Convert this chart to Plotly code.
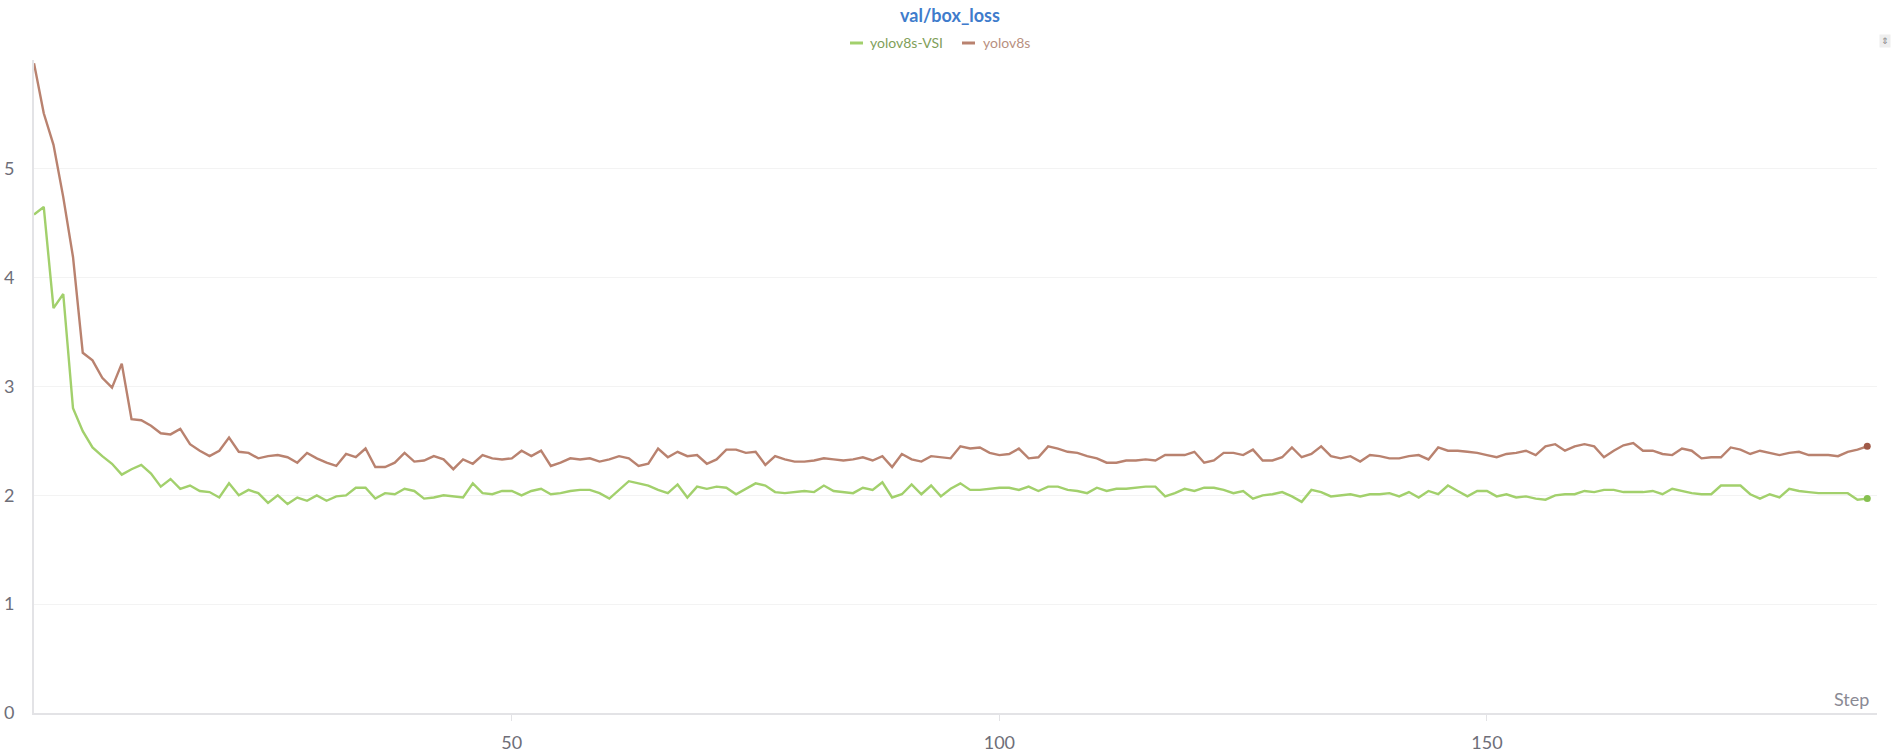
import plotly.graph_objects as go

steps = list(range(1, 190))

yolov8s_vsi = [
    4.58, 4.65, 3.72, 3.85, 2.80, 2.59, 2.44, 2.36, 2.29, 2.19,
    2.24, 2.28, 2.20, 2.08, 2.15, 2.06, 2.09, 2.04, 2.03, 1.98,
    2.11, 2.00, 2.05, 2.02, 1.93, 2.00, 1.92, 1.98, 1.95, 2.00,
    1.95, 1.99, 2.00, 2.07, 2.07, 1.97, 2.02, 2.01, 2.06, 2.04,
    1.97, 1.98, 2.00, 1.99, 1.98, 2.11, 2.02, 2.01, 2.04, 2.04,
    2.00, 2.04, 2.06, 2.01, 2.02, 2.04, 2.05, 2.05, 2.02, 1.97,
    2.05, 2.13, 2.11, 2.09, 2.05, 2.02, 2.10, 1.98, 2.08, 2.06,
    2.08, 2.07, 2.01, 2.06, 2.11, 2.09, 2.03, 2.02, 2.03, 2.04,
    2.03, 2.09, 2.04, 2.03, 2.02, 2.07, 2.05, 2.12, 1.98, 2.01,
    2.10, 2.01, 2.09, 1.99, 2.06, 2.11, 2.05, 2.05, 2.06, 2.07,
    2.07, 2.05, 2.08, 2.04, 2.08, 2.08, 2.05, 2.04, 2.02, 2.07,
    2.04, 2.06, 2.06, 2.07, 2.08, 2.08, 1.99, 2.02, 2.06, 2.04,
    2.07, 2.07, 2.05, 2.02, 2.04, 1.97, 2.00, 2.01, 2.03, 1.99,
    1.94, 2.05, 2.03, 1.99, 2.00, 2.01, 1.99, 2.01, 2.01, 2.02,
    1.99, 2.03, 1.98, 2.04, 2.01, 2.09, 2.04, 1.99, 2.04, 2.04,
    1.99, 2.01, 1.98, 1.99, 1.97, 1.96, 2.00, 2.01, 2.01, 2.04,
    2.03, 2.05, 2.05, 2.03, 2.03, 2.03, 2.04, 2.01, 2.06, 2.04,
    2.02, 2.01, 2.01, 2.09, 2.09, 2.09, 2.01, 1.97, 2.01, 1.98,
    2.06, 2.04, 2.03, 2.02, 2.02, 2.02, 2.02, 1.96, 1.97,
]

yolov8s = [
    5.97, 5.51, 5.22, 4.74, 4.19, 3.31, 3.24, 3.08, 2.99, 3.21,
    2.70, 2.69, 2.64, 2.57, 2.56, 2.61, 2.47, 2.41, 2.36, 2.41,
    2.53, 2.40, 2.39, 2.34, 2.36, 2.37, 2.35, 2.30, 2.39, 2.34,
    2.30, 2.27, 2.38, 2.35, 2.43, 2.26, 2.26, 2.30, 2.39, 2.31,
    2.32, 2.36, 2.33, 2.24, 2.33, 2.29, 2.37, 2.34, 2.33, 2.34,
    2.41, 2.36, 2.41, 2.27, 2.30, 2.34, 2.33, 2.34, 2.31, 2.33,
    2.36, 2.34, 2.27, 2.29, 2.43, 2.35, 2.40, 2.36, 2.37, 2.29,
    2.33, 2.42, 2.42, 2.39, 2.40, 2.28, 2.36, 2.33, 2.31, 2.31,
    2.32, 2.34, 2.33, 2.32, 2.33, 2.35, 2.32, 2.36, 2.26, 2.38,
    2.33, 2.31, 2.36, 2.35, 2.34, 2.45, 2.43, 2.44, 2.39, 2.37,
    2.38, 2.43, 2.34, 2.35, 2.45, 2.43, 2.40, 2.39, 2.36, 2.34,
    2.30, 2.30, 2.32, 2.32, 2.33, 2.32, 2.37, 2.37, 2.37, 2.40,
    2.30, 2.32, 2.39, 2.39, 2.37, 2.42, 2.32, 2.32, 2.35, 2.44,
    2.35, 2.38, 2.45, 2.36, 2.34, 2.36, 2.31, 2.37, 2.36, 2.34,
    2.34, 2.36, 2.37, 2.33, 2.44, 2.41, 2.41, 2.40, 2.39, 2.37,
    2.35, 2.38, 2.39, 2.41, 2.37, 2.45, 2.47, 2.41, 2.45, 2.47,
    2.45, 2.35, 2.41, 2.46, 2.48, 2.41, 2.41, 2.38, 2.37, 2.43,
    2.41, 2.34, 2.35, 2.35, 2.44, 2.42, 2.38, 2.41, 2.39, 2.37,
    2.39, 2.40, 2.37, 2.37, 2.37, 2.36, 2.40, 2.42, 2.45,
]

series_names = ["yolov8s-VSI", "yolov8s"]
line_colors = ["#a2d06c", "#b9826f"]
dot_colors = ["#86c050", "#a05a48"]
text_colors = ["#7fa05a", "#b8907f"]
y_ticks = [0, 1, 2, 3, 4, 5]
x_ticks = [50, 100, 150]

FONT = "Source Sans Pro, Lato, Noto Sans, sans-serif"
W, H = 1900, 752
ML, MR, MT, MB = 34, 23, 60, 39
PW, PH = W - ML - MR, H - MT - MB


def px(x):
    return (x - ML) / PW


def py(y):
    return (H - MB - y) / PH


fig = go.Figure()
for name, vals, lc, dc in zip(series_names, [yolov8s_vsi, yolov8s], line_colors, dot_colors):
    fig.add_trace(go.Scatter(
        x=steps, y=vals, mode="lines", name=name,
        line=dict(color=lc, width=2.4), showlegend=False,
    ))
    fig.add_trace(go.Scatter(
        x=[steps[-1]], y=[vals[-1]], mode="markers",
        marker=dict(color=dc, size=7), showlegend=False, hoverinfo="skip",
    ))

# manual legend
legend_items = [(850, 868), (962, 981)]
shapes = []
annotations = []
for (lx, tx), name, lc, tc in zip(legend_items, series_names, line_colors, text_colors):
    shapes.append(dict(type="line", xref="paper", yref="paper",
                       x0=px(lx), x1=px(lx + 13), y0=py(43), y1=py(43),
                       line=dict(color=lc, width=3)))
    annotations.append(dict(xref="paper", yref="paper", x=px(tx), y=py(43),
                            xanchor="left", yanchor="middle", showarrow=False,
                            text=name, font=dict(family=FONT, size=14, color=tc)))

annotations.append(dict(xref="paper", yref="paper", x=px(1871), y=py(699),
                        xanchor="right", yanchor="middle", showarrow=False,
                        text="Step", font=dict(family=FONT, size=18, color="#8a8a94")))
annotations.append(dict(xref="paper", yref="paper", x=px(1885), y=py(41),
                        xanchor="center", yanchor="middle", showarrow=False,
                        text="⇕", bgcolor="#eeeeee",
                        font=dict(family="DejaVu Sans", size=9, color="#888888")))

fig.update_layout(
    width=W, height=H,
    margin=dict(l=ML, r=MR, t=MT, b=MB, autoexpand=False),
    paper_bgcolor="white", plot_bgcolor="white",
    font=dict(family=FONT, size=18, color="#6e6e78"),
    title=dict(text="<b>val/box_loss</b>", x=950 / W, xanchor="center",
               y=1 - 15.5 / H, yanchor="middle",
               font=dict(family=FONT, size=18, color="#3f7ccc")),
    shapes=shapes, annotations=annotations,
    xaxis=dict(range=[1, 190], tickvals=x_ticks, showgrid=False, zeroline=False,
               showline=True, linecolor="#e3e3e6", linewidth=2,
               ticks="outside", ticklen=6, tickcolor="#e3e3e6", tickwidth=1,
               ticklabelstandoff=6,
               tickfont=dict(family=FONT, size=18, color="#6e6e78")),
    yaxis=dict(range=[0, 6], tickvals=y_ticks, showgrid=True, gridcolor="#f3f3f3",
               gridwidth=1, zeroline=False, showline=True, linecolor="#e3e3e6",
               linewidth=2, ticks="", ticklabelstandoff=14,
               tickfont=dict(family=FONT, size=18, color="#6e6e78")),
    hovermode=False,
)

fig.write_html(
    "out.html",
    config={"displayModeBar": False},
    post_script="document.body.style.margin='0';document.body.style.overflow='hidden';",
)
